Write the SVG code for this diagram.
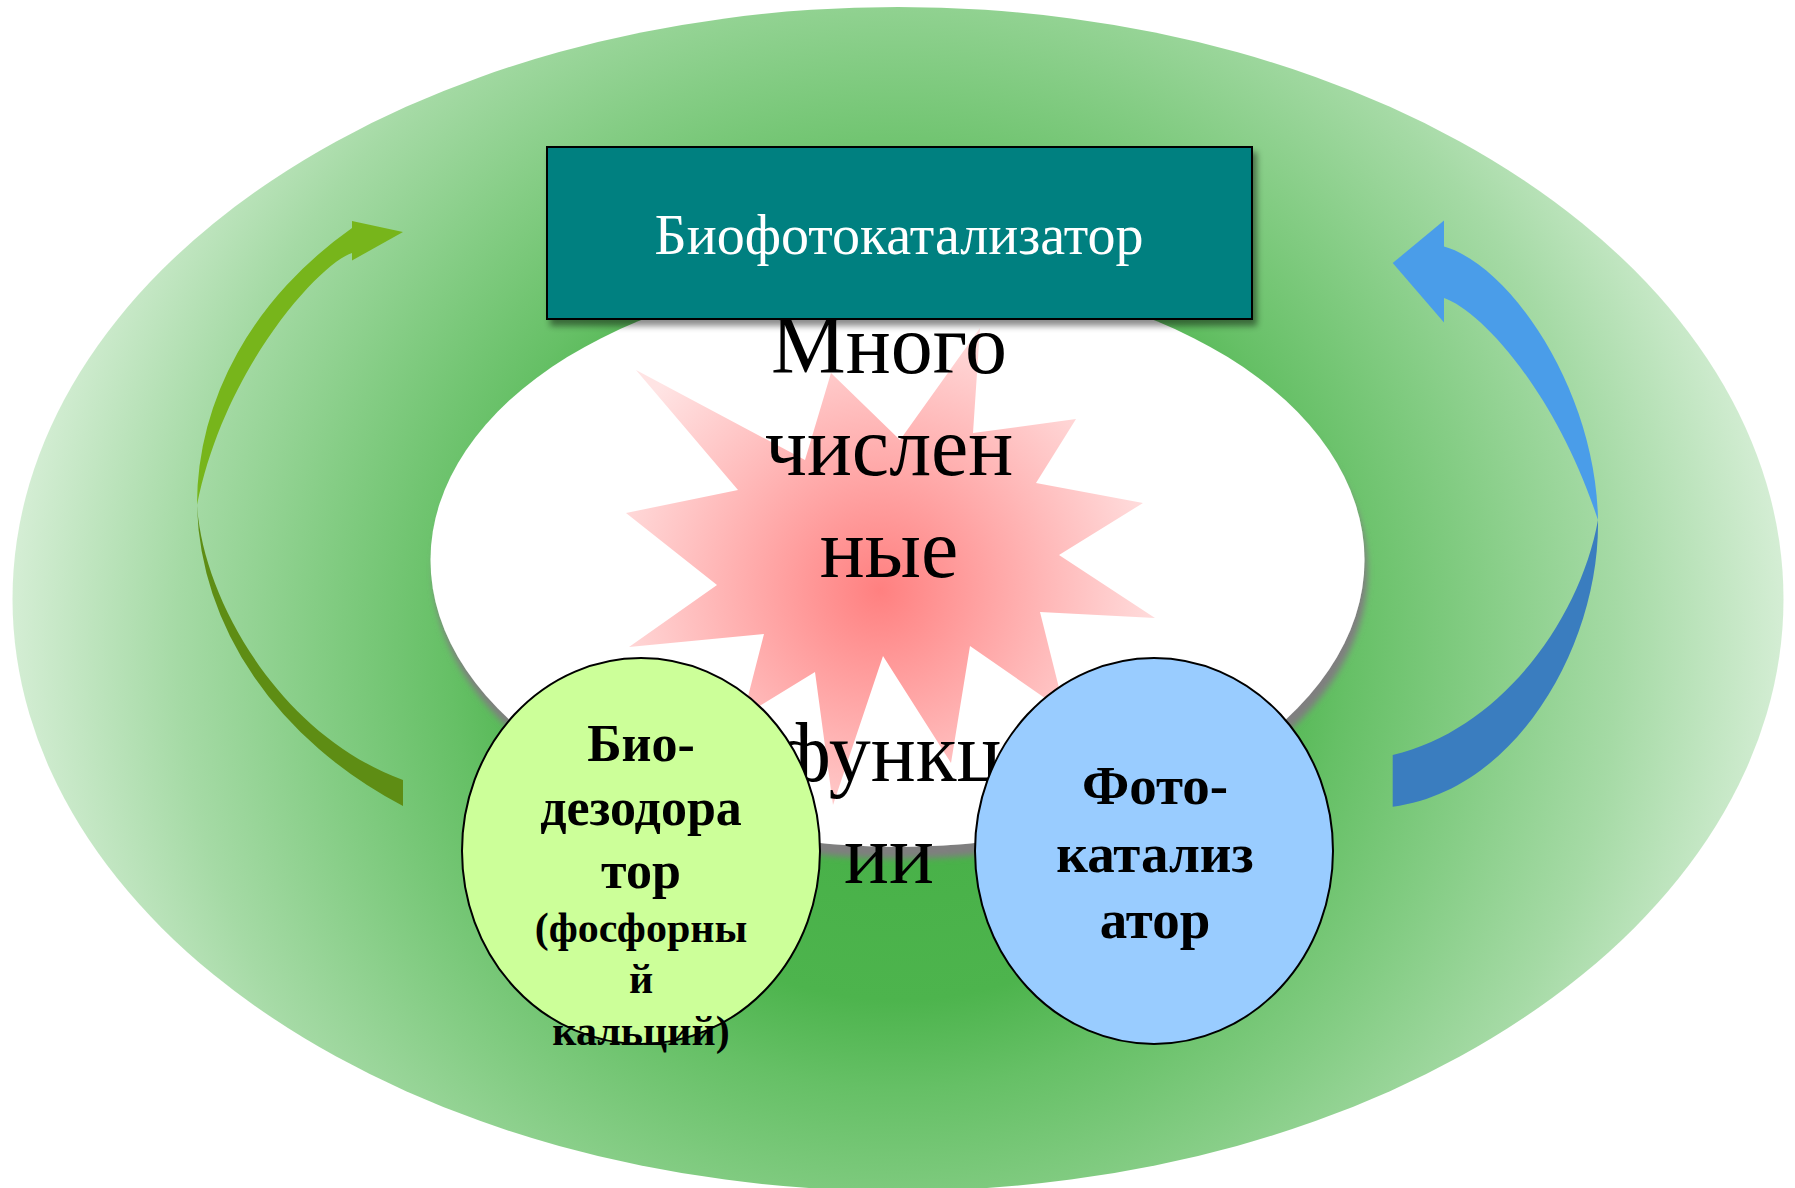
<svg xmlns="http://www.w3.org/2000/svg" width="1795" height="1188" viewBox="0 0 1795 1188">
<defs>
<style>
.ser{font-family:"Liberation Serif","Times New Roman",serif;}
.ctr{font-size:84px;fill:#000;text-anchor:middle;}
.bold{font-weight:bold;fill:#000;text-anchor:middle;}
.circ{stroke:#000;stroke-width:2;}
</style>
<radialGradient id="gBg" gradientUnits="userSpaceOnUse" cx="898" cy="640" r="900">
<stop offset="0" stop-color="#42AD42"/>
<stop offset="0.4" stop-color="#4DB44D"/>
<stop offset="0.5" stop-color="#66C066"/>
<stop offset="0.65" stop-color="#85CD85"/>
<stop offset="0.8" stop-color="#A5DAA5"/>
<stop offset="1" stop-color="#D8EFD8"/>
</radialGradient>
<radialGradient id="gStar" gradientUnits="userSpaceOnUse" cx="880" cy="590" r="300">
<stop offset="0" stop-color="#FF8080"/>
<stop offset="1" stop-color="#FFE4E4"/>
</radialGradient>
<filter id="shEll" x="-10%" y="-10%" width="120%" height="130%">
<feDropShadow dx="3" dy="12" stdDeviation="3" flood-color="#7f7f7f" flood-opacity="1"/>
</filter>
<filter id="shBox" x="-10%" y="-10%" width="120%" height="130%">
<feDropShadow dx="4" dy="6" stdDeviation="3" flood-color="#000" flood-opacity="0.45"/>
</filter>
</defs>
<rect width="1795" height="1188" fill="#fff"/>
<g id="background">
<ellipse cx="898" cy="599" rx="885.5" ry="592" fill="url(#gBg)"/>
</g>
<g id="connectors">
<g id="arrow-green">
<path d="M352,228 A448,366 0 0 0 197,505 C225,365 322,262 352,253 Z" fill="#77B51B"/>
<path d="M352,221 L403,232 L352,260.5 Z" fill="#77B51B"/>
<path d="M197,505 A448,366 0 0 0 403,806 L403,780 C280,735 203,600 197,505 Z" fill="#5E8D14"/>
</g>
<g id="arrow-blue">
<path d="M1444,246.6 C1510,265 1596,390 1598,520 C1555,390 1480,310 1444,298 Z" fill="#4A9DE9"/>
<path d="M1444,220.6 L1392.7,263 L1444,322.5 Z" fill="#4A9DE9"/>
<path d="M1598,520 C1600,640 1520,790 1392.7,806.7 L1392.7,755 C1500,730 1580,620 1598,520 Z" fill="#3A7DBF"/>
</g>
</g>
<g id="center">
<ellipse cx="897.5" cy="560" rx="467" ry="287" fill="#fff" filter="url(#shEll)"/>
<polygon fill="url(#gStar)" points="636,370 805,460 831,373 900,440 980,328 973,433 1076,419 1036,483 1143,503 1059,555 1155,618 1040,612 1065,712 970,646 951,763 883,656 833,805 815,672 743,716 764,634 629,647 717,585 626,513 738,490"/>
<g class="ser ctr">
<text x="889" y="373">Много</text>
<text x="889" y="475">числен</text>
<text x="889" y="577">ные</text>
<text x="889" y="781">функц</text>
<text x="889" y="883">ии</text>
</g>
</g>
<g id="node-biofoto">
<rect x="547" y="147" width="705" height="172" fill="#008080" stroke="#000" stroke-width="2" filter="url(#shBox)"/>
<text class="ser" x="899" y="254" font-size="56" fill="#fff" text-anchor="middle">Биофотокатализатор</text>
</g>
<g id="node-biodeodorant">
<ellipse class="circ" cx="641" cy="851" rx="179" ry="193" fill="#CCFF99"/>
<g class="ser bold" font-size="52">
<text x="641" y="761">Био-</text>
<text x="641" y="825">дезодора</text>
<text x="641" y="888">тор</text>
</g>
<g class="ser bold" font-size="42">
<text x="641" y="942">(фосфорны</text>
<text x="641" y="993">й</text>
<text x="641" y="1045">кальций)</text>
</g>
</g>
<g id="node-photocatalyst">
<ellipse class="circ" cx="1154" cy="851" rx="179" ry="193" fill="#99CCFF"/>
<g class="ser bold" font-size="55">
<text x="1155" y="804">Фото-</text>
<text x="1155" y="872">катализ</text>
<text x="1155" y="938">атор</text>
</g>
</g>
</svg>
